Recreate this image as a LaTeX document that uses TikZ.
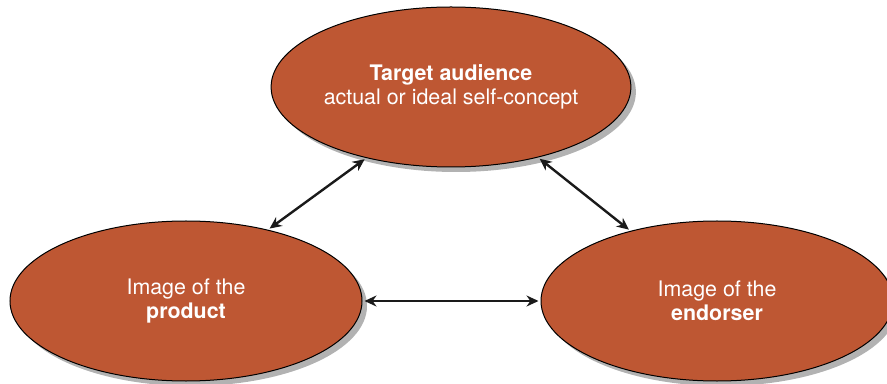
\documentclass[tikz,border=0pt]{standalone}
\usepackage{fontspec}
\setmainfont{TeX Gyre Heros}
\usetikzlibrary{arrows.meta,shapes.geometric,shadows}
\definecolor{RustOrange}{HTML}{BE5733}
\definecolor{ArrowBlack}{HTML}{1A1A1A}

\begin{document}
\begin{tikzpicture}[x=0.5pt, y=-0.5pt,
  blob/.style={ellipse, draw=black, line width=0.5pt, fill=RustOrange, text=white, inner sep=0pt, minimum width=176pt, minimum height=80pt, align=center, font=\fontsize{10.7}{12.2}\selectfont, drop shadow={shadow xshift=2.5pt, shadow yshift=-2.5pt, opacity=0.3, fill=black}},
  link/.style={{Stealth[length=6pt,width=5.5pt]}-{Stealth[length=6pt,width=5.5pt]}, line width=1.2pt, draw=ArrowBlack, shorten <=1pt, shorten >=1pt}
]
  \useasboundingbox (0,0) rectangle (887,384);
  \node[blob] (aud) at (451,87) {\textbf{Target audience}\\actual or ideal self-concept};
  \node[blob] (prod) at (186,301) {Image of the\\\textbf{product}};
  \node[blob] (endo) at (717,301) {Image of the\\\textbf{endorser}};
  \draw[link] (prod.41) -- (aud.220);
  \draw[link] (aud.321) -- (endo.141);
  \draw[link] (prod.east) -- (endo.west);
\end{tikzpicture}
\end{document}
